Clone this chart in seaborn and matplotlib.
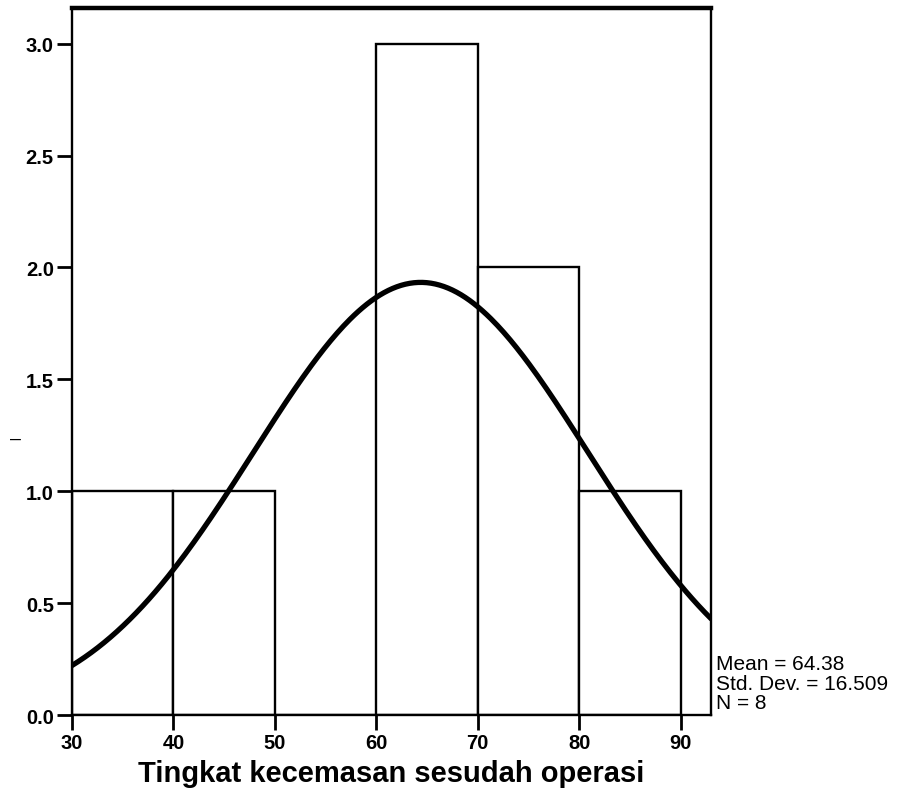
import numpy as np
import pandas as pd
import matplotlib
matplotlib.use("Agg")
import matplotlib.pyplot as plt
import seaborn as sns

# histogram bins
bin_edges = [30, 40, 50, 60, 70, 80, 90]
bin_counts = [1, 1, 0, 3, 2, 1]
mean_val = 64.38
sd_val = 16.509
n_val = 8
x_ticks = [30, 40, 50, 60, 70, 80, 90]
y_ticks = [0.0, 0.5, 1.0, 1.5, 2.0, 2.5, 3.0]

sns.set_style("white")
plt.rcParams['font.family'] = ['Liberation Sans', 'DejaVu Sans']
plt.rcParams['text.color'] = 'black'
plt.rcParams['xtick.color'] = 'black'
plt.rcParams['ytick.color'] = 'black'
plt.rcParams['axes.labelcolor'] = 'black'

df = pd.DataFrame({
    "mid": [(a + b) / 2 for a, b in zip(bin_edges[:-1], bin_edges[1:])],
    "count": bin_counts,
})

fig = plt.figure(figsize=(8.99, 8.03), dpi=100)
ax = fig.add_axes([0.080, 0.1083, 0.711, 0.8807])

sns.histplot(data=df, x="mid", weights="count", bins=bin_edges,
             color="white", edgecolor="black", linewidth=1.7, alpha=1, ax=ax)

# fitted normal curve (SPSS style: N * bin width * pdf)
xs = np.linspace(30, 93, 300)
binw = 10
ys = n_val * binw * np.exp(-0.5 * ((xs - mean_val) / sd_val) ** 2) / (sd_val * np.sqrt(2 * np.pi))
sns.lineplot(x=xs, y=ys, color="black", linewidth=3.8, ax=ax)

ax.set_xlim(30, 93)
ax.set_ylim(0, 3.16)
ax.set_xticks(x_ticks)
ax.set_yticks(y_ticks)
ax.set_yticklabels([f"{v:.1f}" for v in y_ticks])
ax.tick_params(axis="both", direction="out", length=11, width=2, pad=2,
               labelsize=14.5, left=True, bottom=True)
for lab in ax.get_xticklabels() + ax.get_yticklabels():
    lab.set_fontweight("bold")

ax.set_ylabel("")
ax.set_xlabel("Tingkat kecemasan sesudah operasi", fontsize=21,
              fontweight="bold", labelpad=5)

for side in ["left", "bottom", "right"]:
    ax.spines[side].set_visible(True)
    ax.spines[side].set_color("black")
    ax.spines[side].set_linewidth(1.7)
ax.spines["top"].set_visible(True)
ax.spines["top"].set_color("black")
ax.spines["top"].set_linewidth(3.2)

stats = f"Mean = {mean_val:.2f}\nStd. Dev. = {sd_val:.3f}\nN = {n_val}"
fig.text(0.796, 0.112, stats, fontsize=15, ha="left", va="bottom",
         linespacing=1.02)
fig.text(0.011, 0.453, "–", fontsize=14, ha="left", va="center")

fig.savefig("out.png", dpi=100)
